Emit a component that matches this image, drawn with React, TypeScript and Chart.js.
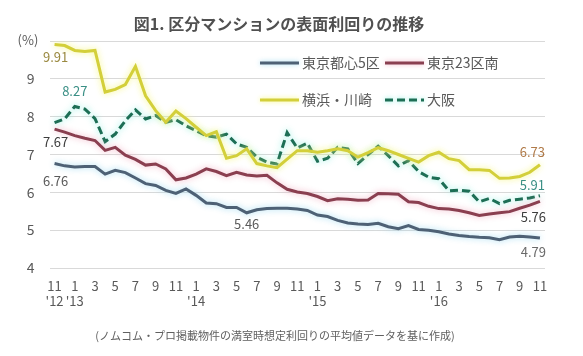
import React, { useEffect, useRef } from 'react';
import { Chart, registerables } from 'chart.js';

Chart.register(...registerables);

const FONT = '"Noto Sans CJK JP", "Noto Sans", sans-serif';

const months = [11, 12, 1, 2, 3, 4, 5, 6, 7, 8, 9, 10, 11, 12, 1, 2, 3, 4, 5, 6, 7, 8, 9, 10, 11, 12, 1, 2, 3, 4, 5, 6, 7, 8, 9, 10, 11, 12, 1, 2, 3, 4, 5, 6, 7, 8, 9, 10, 11];
const yearIdx = [0, 2, 14, 26, 38];
const yearText = ["'12", "'13", "'14", "'15", "'16"];

const yTicks = [4, 5, 6, 7, 8, 9, 10];

const tokyo5 = [6.76, 6.70, 6.67, 6.68, 6.68, 6.48, 6.58, 6.52, 6.38, 6.23, 6.18, 6.05, 5.97, 6.09, 5.92, 5.72, 5.70, 5.60, 5.60, 5.46, 5.54, 5.57, 5.58, 5.58, 5.56, 5.52, 5.40, 5.36, 5.26, 5.19, 5.16, 5.15, 5.18, 5.09, 5.04, 5.12, 5.02, 5.00, 4.96, 4.90, 4.86, 4.83, 4.81, 4.80, 4.75, 4.82, 4.84, 4.82, 4.79];
const tokyo23s = [7.67, 7.59, 7.50, 7.43, 7.37, 7.11, 7.19, 6.98, 6.87, 6.72, 6.75, 6.62, 6.33, 6.38, 6.48, 6.62, 6.55, 6.44, 6.53, 6.46, 6.43, 6.45, 6.25, 6.08, 6.01, 5.97, 5.89, 5.78, 5.83, 5.82, 5.79, 5.80, 5.97, 5.96, 5.95, 5.75, 5.73, 5.63, 5.57, 5.56, 5.52, 5.46, 5.39, 5.43, 5.46, 5.49, 5.58, 5.66, 5.76];
const yokohama = [9.91, 9.88, 9.75, 9.72, 9.75, 8.65, 8.72, 8.85, 9.33, 8.55, 8.16, 7.85, 8.15, 7.95, 7.72, 7.50, 7.60, 6.90, 6.97, 7.15, 6.76, 6.70, 6.65, 6.88, 7.10, 7.10, 7.06, 7.10, 7.15, 7.10, 6.93, 7.05, 7.18, 7.10, 7.00, 6.90, 6.80, 6.97, 7.06, 6.89, 6.84, 6.60, 6.60, 6.58, 6.37, 6.38, 6.42, 6.53, 6.73];
const osaka = [7.84, 7.94, 8.27, 8.20, 7.95, 7.34, 7.54, 7.89, 8.18, 7.94, 8.03, 7.85, 7.92, 7.76, 7.63, 7.50, 7.46, 7.54, 7.28, 7.19, 6.93, 6.80, 6.75, 7.58, 7.17, 7.30, 6.82, 6.90, 7.19, 7.15, 6.76, 7.00, 7.22, 6.97, 6.70, 6.84, 6.55, 6.40, 6.36, 6.04, 6.06, 6.03, 5.75, 5.84, 5.70, 5.79, 5.82, 5.85, 5.91];

const seriesNames = ['東京都心5区', '東京23区南', '横浜・川崎', '大阪'];
const seriesColors = ['#4e6175', '#8a3f50', '#d3cf3a', '#1d6e55'];
const glowColors = ['rgba(150,215,240,0.85)', 'rgba(240,170,190,0.85)', 'rgba(245,245,120,0.95)', 'rgba(120,235,220,0.85)'];

const title = '図1. 区分マンションの表面利回りの推移';
const footnote = '(ノムコム・プロ掲載物件の満室時想定利回りの平均値データを基に作成)';
const unitLabel = '(%)';

// value callouts: dataset index, point index
const callouts = [
  { ds: 2, idx: 0, color: '#9a8940', dx: 1, dy: 13, align: 'center' },
  { ds: 3, idx: 2, color: '#3a8f85', dx: 0, dy: -15, align: 'center' },
  { ds: 1, idx: 0, color: '#3d3d3d', dx: 1, dy: 13, align: 'center' },
  { ds: 0, idx: 0, color: '#5a5a5a', dx: 1, dy: 17, align: 'center' },
  { ds: 0, idx: 19, color: '#5a5a5a', dx: 0, dy: 11, align: 'center' },
  { ds: 2, idx: 48, color: '#b07a48', dx: 5, dy: -13, align: 'right' },
  { ds: 3, idx: 48, color: '#3a8f85', dx: 5, dy: -11, align: 'right' },
  { ds: 1, idx: 48, color: '#3d3d3d', dx: 6, dy: 16, align: 'right' },
  { ds: 0, idx: 48, color: '#6a6a6a', dx: 6, dy: 14, align: 'right' },
];

const legendCols = [260, 385];
const legendRows = [63, 100];

export default function App() {
  const ref = useRef<HTMLCanvasElement | null>(null);

  useEffect(() => {
    if (!ref.current) return;
    const labels = months.map((m, i) => {
      const k = yearIdx.indexOf(i);
      return k >= 0 ? [String(m), yearText[k]] : String(m);
    });
    const allData = [tokyo5, tokyo23s, yokohama, osaka];

    const glow = {
      id: 'glow',
      beforeDatasetDraw(chart: any, args: any) {
        const ctx = chart.ctx;
        ctx.save();
        ctx.shadowColor = glowColors[args.index];
        ctx.shadowBlur = 6;
      },
      afterDatasetDraw(chart: any) {
        chart.ctx.restore();
      },
    };

    const decor = {
      id: 'decor',
      afterDraw(chart: any) {
        const ctx = chart.ctx;
        const xs = chart.scales.x;
        const ys = chart.scales.y;
        ctx.save();
        // title
        ctx.fillStyle = '#505050';
        ctx.font = `bold 16px ${FONT}`;
        ctx.textAlign = 'center';
        ctx.textBaseline = 'middle';
        ctx.fillText(title, 279, 24);
        // unit
        ctx.fillStyle = '#595959';
        ctx.font = `13px ${FONT}`;
        ctx.fillText(unitLabel, 28, 40);
        // footnote
        ctx.font = `11px ${FONT}`;
        ctx.fillStyle = '#606060';
        ctx.fillText(footnote, 275, 336);
        // legend
        for (let i = 0; i < 4; i++) {
          const x = legendCols[i % 2];
          const y = legendRows[Math.floor(i / 2)];
          ctx.save();
          ctx.strokeStyle = seriesColors[i];
          ctx.lineWidth = 3;
          ctx.shadowColor = glowColors[i];
          ctx.shadowBlur = 5;
          if (i === 3) ctx.setLineDash([8, 4]);
          ctx.beginPath();
          ctx.moveTo(x, y);
          ctx.lineTo(x + 39, y);
          ctx.stroke();
          ctx.restore();
          ctx.fillStyle = '#595959';
          ctx.font = `14px ${FONT}`;
          ctx.textAlign = 'left';
          ctx.fillText(seriesNames[i], x + 42, y);
        }
        // callouts
        ctx.font = `13px ${FONT}`;
        for (const c of callouts) {
          const v = allData[c.ds][c.idx];
          const px = xs.getPixelForValue(c.idx);
          const py = ys.getPixelForValue(v);
          ctx.fillStyle = c.color;
          ctx.textAlign = c.align as CanvasTextAlign;
          ctx.fillText(v.toFixed(2), px + c.dx, py + c.dy);
        }
        ctx.restore();
      },
    };

    const chart = new Chart(ref.current, {
      type: 'line',
      data: {
        labels,
        datasets: allData.map((d, i) => ({
          label: seriesNames[i],
          data: d,
          borderColor: seriesColors[i],
          backgroundColor: seriesColors[i],
          borderWidth: 3,
          borderDash: i === 3 ? [8, 4] : [],
          pointRadius: 0,
          tension: 0,
          fill: false,
        })),
      },
      options: {
        responsive: false,
        animation: false,
        layout: { padding: { top: 41, right: 38, left: 0, bottom: 0 } },
        plugins: {
          legend: { display: false },
          tooltip: { enabled: false },
          title: { display: false },
        },
        scales: {
          x: {
            offset: true,
            grid: { display: false, drawTicks: false },
            border: { display: false },
            ticks: {
              autoSkip: false,
              maxRotation: 0,
              padding: 10,
              color: '#595959',
              font: { size: 13, family: FONT },
              callback: function (this: any, v: any, i: number) {
                return i % 2 === 0 ? this.getLabelForValue(v) : '';
              },
            },
            afterFit: (s: any) => {
              s.height = 88;
            },
          },
          y: {
            min: yTicks[0],
            max: yTicks[yTicks.length - 1],
            afterBuildTicks: (s: any) => {
              s.ticks = yTicks.map((v) => ({ value: v }));
            },
            grid: { color: '#d9d9d9', lineWidth: 1, drawTicks: false },
            border: { display: false },
            ticks: {
              padding: 15,
              color: '#595959',
              font: { size: 14, family: FONT },
              callback: (v: any) => (v === yTicks[yTicks.length - 1] ? '' : String(v)),
            },
            afterFit: (s: any) => {
              s.width = 49.5;
            },
          },
        },
      } as any,
      plugins: [glow, decor],
    });
    return () => chart.destroy();
  }, []);

  return (
    <div style={{ position: 'absolute', left: 0, top: 0, width: 583, height: 356, background: '#fff' }}>
      <canvas ref={ref} width={583} height={356} style={{ display: 'block' }} />
    </div>
  );
}
